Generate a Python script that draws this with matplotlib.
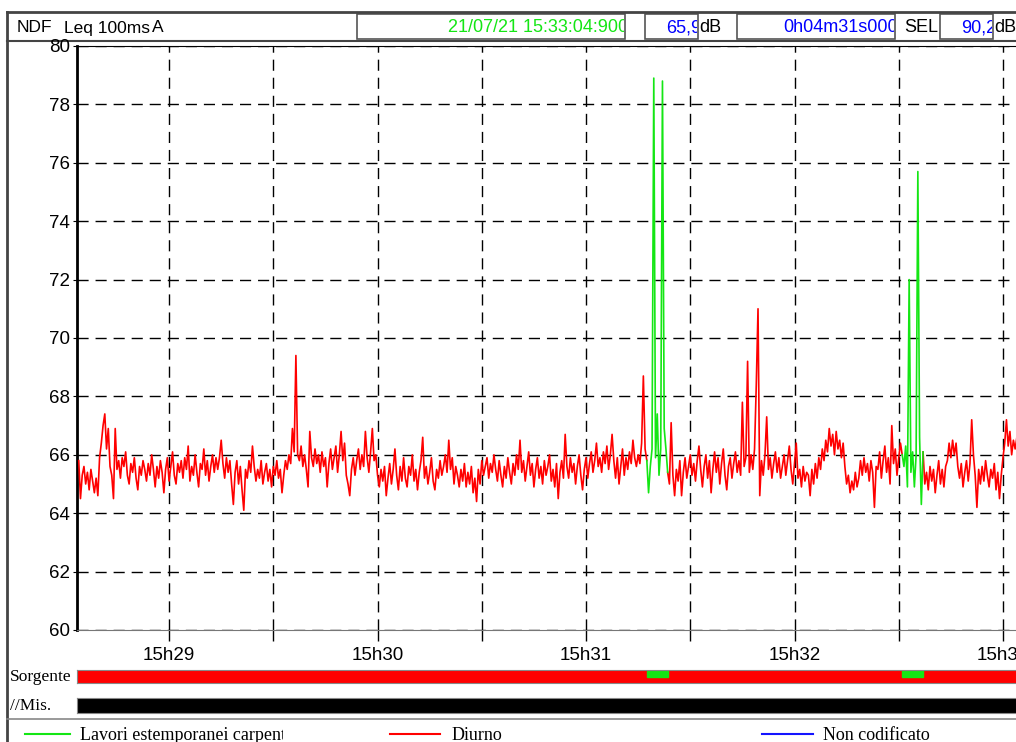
import numpy as np
import matplotlib
matplotlib.use("Agg")
import matplotlib.pyplot as plt
from matplotlib.patches import Rectangle
from matplotlib import font_manager

###############################################################################
# Data read off the reference (Leq 100ms A, sampled every 0.5 s)
# time axis: seconds after 15:28:00
t_start = 34.0
t_step = 0.5
leq = [
    # 34 - 43.5
    65.8, 64.5, 65.3, 65.6, 65.0, 65.4, 64.8, 65.5, 65.1, 64.7, 65.2, 64.6, 65.9, 66.4, 67.0, 67.4, 66.2, 66.9, 65.6, 65.3,
    # 44 - 53.5
    64.5, 66.9, 65.5, 65.8, 65.2, 65.9, 65.6, 66.1, 65.3, 65.0, 65.7, 65.4, 65.9, 65.2, 64.8, 65.6, 65.3, 65.8, 65.5, 65.1,
    # 54 - 63.5
    65.7, 65.3, 66.0, 65.5, 64.9, 65.6, 65.2, 65.8, 65.4, 64.7, 65.5, 65.9, 65.1, 65.6, 66.1, 65.3, 65.0, 65.7, 65.4, 65.8,
    # 64 - 73.5
    65.2, 65.9, 65.5, 66.3, 65.1, 65.6, 65.3, 66.0, 65.4, 64.9, 65.7, 65.5, 66.2, 65.3, 65.8, 65.1, 65.6, 66.0, 65.4, 65.9,
    # 74 - 83.5
    65.5, 65.9, 66.5, 65.7, 65.2, 65.9, 65.4, 65.8, 65.0, 64.3, 65.4, 65.8, 65.0, 65.6, 64.8, 64.1, 65.5, 65.2, 65.8, 65.4,
    # 84 - 93.5
    66.3, 65.6, 65.1, 65.5, 65.2, 65.8, 65.0, 65.4, 65.7, 65.1, 65.5, 64.9, 65.6, 65.3, 65.8, 65.2, 65.5, 64.7, 65.3, 65.8,
    # 94 - 103.5
    65.5, 66.0, 65.7, 66.9, 66.1, 69.4, 66.0, 65.8, 66.3, 65.6, 66.0, 65.5, 64.9, 66.8, 65.9, 65.6, 66.2, 65.7, 66.0, 65.4,
    # 104 - 113.5
    66.1, 65.6, 65.9, 64.9, 65.7, 66.2, 65.5, 65.9, 66.3, 65.4, 66.0, 66.8, 65.8, 66.4, 65.3, 65.0, 64.6, 65.5, 65.9, 65.3,
    # 114 - 123.5
    65.8, 66.2, 65.5, 66.0, 65.6, 66.8, 65.9, 65.4, 66.1, 66.9, 65.8, 66.0, 65.3, 64.9, 65.5, 65.1, 65.6, 64.6, 65.2, 65.7,
    # 124 - 133.5
    65.0, 65.5, 66.2, 65.3, 64.8, 65.6, 65.1, 65.9, 65.2, 64.9, 65.6, 65.3, 66.0, 65.1, 65.5, 64.8, 65.4, 65.8, 66.6, 65.2,
    # 134 - 143.5
    65.6, 65.0, 65.4, 65.9, 65.1, 64.8, 65.5, 65.2, 65.8, 65.3, 65.6, 66.0, 65.4, 66.5, 65.5, 65.9, 65.0, 65.6, 65.3, 64.9,
    # 144 - 153.5
    65.5, 65.1, 65.7, 64.9, 65.4, 65.0, 65.6, 64.7, 65.2, 64.4, 65.5, 65.0, 65.8, 65.3, 65.6, 65.9, 65.2, 65.7, 65.4, 66.0,
    # 154 - 163.5
    65.5, 65.1, 65.8, 65.3, 64.9, 65.6, 65.2, 65.9, 65.4, 65.0, 65.7, 65.3, 66.0, 65.5, 66.5, 65.4, 65.8, 65.1, 65.6, 66.1,
    # 164 - 173.5
    65.3, 65.7, 64.9, 65.5, 65.9, 65.2, 65.6, 65.0, 65.8, 65.3, 65.6, 66.0, 65.1, 65.5, 64.9, 65.7, 64.5, 65.4, 65.8, 65.2,
    # 174 - 183.5
    66.7, 65.6, 65.2, 65.9, 65.4, 65.7, 65.0, 65.6, 66.0, 65.3, 64.8, 65.5, 65.9, 65.2, 65.7, 66.1, 65.4, 65.8, 66.4, 65.6,
    # 184 - 193.5
    65.9, 65.4, 66.1, 65.7, 66.3, 65.5, 66.0, 66.7, 65.8, 65.2, 65.9, 65.0, 65.6, 66.2, 65.3, 65.9, 65.5, 66.1, 65.7, 66.5,
    # 194 - 203.5
    65.9, 65.6, 66.0, 65.7, 66.4, 68.7, 66.2, 65.8, 64.7, 65.6, 66.2, 78.9, 65.9, 67.4, 65.3, 66.2, 78.8, 66.9, 66.2, 65.4,
    # 204 - 213.5
    65.0, 67.1, 65.3, 64.6, 65.5, 65.1, 65.8, 64.6, 65.4, 65.9, 65.2, 65.6, 66.0, 65.3, 65.7, 65.1, 65.8, 66.3, 65.5, 64.9,
    # 214 - 223.5
    65.6, 66.0, 65.2, 65.8, 64.7, 65.5, 66.1, 65.4, 65.9, 65.0, 65.7, 66.2, 65.3, 64.8, 65.6, 65.9, 65.2, 65.7, 66.1, 65.4,
    # 224 - 233.5
    65.8, 65.3, 67.8, 65.6, 65.9, 69.2, 65.4, 66.0, 65.5, 66.2, 68.4, 71.0, 64.6, 65.8, 65.3, 66.0, 67.3, 65.5, 65.9, 65.2,
    # 234 - 243.5
    65.7, 66.1, 65.4, 65.9, 65.2, 65.6, 66.0, 65.3, 65.8, 66.3, 65.5, 65.0, 65.7, 66.4, 65.2, 65.5, 64.9, 65.6, 65.1, 65.4,
    # 244 - 253.5
    65.3, 64.6, 65.5, 65.0, 65.7, 65.2, 65.9, 65.5, 66.2, 65.8, 66.5, 66.1, 66.9, 66.3, 66.7, 66.0, 66.8, 66.2, 66.5, 65.9,
    # 254 - 263.5
    66.4, 65.6, 65.0, 65.3, 64.7, 65.1, 64.8, 65.4, 64.9, 65.2, 65.8, 65.3, 65.9, 65.4, 65.7, 65.1, 65.8, 65.4, 64.2, 65.6,
    # 264 - 273.5
    65.5, 66.1, 65.2, 65.8, 66.3, 65.4, 65.9, 65.0, 67.0, 65.7, 66.2, 65.3, 65.9, 66.4, 66.0, 65.6, 66.3, 64.9, 72.0, 65.4,
    # 274 - 283.5
    66.1, 64.9, 66.0, 75.7, 66.6, 64.3, 66.1, 65.0, 65.4, 64.8, 65.6, 65.1, 65.5, 64.7, 65.3, 65.8, 65.0, 65.5, 64.9, 65.6,
    # 284 - 293.5
    65.8, 66.4, 65.9, 66.5, 66.0, 66.4, 65.6, 65.2, 65.7, 64.9, 65.4, 65.8, 65.1, 65.7, 67.2, 66.0, 65.3, 64.2, 65.5, 65.0,
    # 294 - 303.5
    65.6, 65.1, 65.8, 65.3, 64.9, 65.5, 65.2, 65.7, 64.8, 65.4, 64.5, 65.3, 65.9, 66.4, 67.2, 66.3, 66.8, 66.0, 66.5, 66.2,
    # 304 - 304.5
    66.6, 66.0,
]

# periods coded "Lavori estemporanei carpenter" (seconds after 15:28:00)
green_periods = [(197.5, 203.5), (271.0, 277.0)]

tick_pos = [60, 120, 180, 240, 300]
tick_labels = ['15h29', '15h30', '15h31', '15h32', '15h33']
half_min_pos = [90, 150, 210, 270]
y_ticks = list(range(60, 81, 2))

header_left = ['NDF', 'Leq 100ms', 'A']
timestamp = '21/07/21 15:33:04:900'
leq_total = '65,9'
duration = '0h04m31s000'
sel_value = '90,2'

legend_labels = ['Lavori estemporanei carpenter', 'Diurno', 'Non codificato']
legend_colors = ['#14e614', '#ff0000', '#1414ff']

###############################################################################
# Fonts
names = {f.name for f in font_manager.fontManager.ttflist}
sans = 'Liberation Sans Narrow' if 'Liberation Sans Narrow' in names else 'Liberation Sans'
serif = 'Liberation Serif'

W, H = 1016, 742
fig = plt.figure(figsize=(W / 100, H / 100), dpi=100)

def px_axes(x0, y0, x1, y1):
    return fig.add_axes([x0 / W, (H - y1) / H, (x1 - x0) / W, (y1 - y0) / H])

# overlay in pixel coordinates for the frame, header and legend
ov = fig.add_axes([0, 0, 1, 1])
ov.set_xlim(0, W)
ov.set_ylim(H, 0)
ov.axis('off')

t = t_start + t_step * np.arange(len(leq))
leq = np.array(leq)
in_green = np.zeros(len(t), dtype=bool)
in_green_open = np.zeros(len(t), dtype=bool)
for a, b in green_periods:
    in_green |= (t >= a) & (t <= b)
    in_green_open |= (t > a) & (t < b)
red_line = np.where(in_green_open, np.nan, leq)
green_line = np.where(in_green, leq, np.nan)

###############################################################################
# Main plot
x_lo, x_hi = 33.5, 304.9
ax = px_axes(77, 46, 1020, 630)
ax.plot(t, red_line, color='#ff0000', lw=1.2, zorder=3)
ax.plot(t, green_line, color=legend_colors[0], lw=1.2, zorder=3)
ax.set_xlim(x_lo, x_hi)
ax.set_ylim(60, 80)
ax.set_yticks(y_ticks)
ax.set_xticks(tick_pos)
ax.set_xticklabels(tick_labels)
ax.set_xticks(half_min_pos, minor=True)
ax.grid(which='both', axis='x', color='black', linestyle=(0, (8, 5)), lw=1.0)
ax.grid(which='major', axis='y', color='black', linestyle=(0, (8, 5)), lw=1.0)
ax.tick_params(axis='x', which='both', direction='out', length=8, width=1, pad=4)
ax.tick_params(axis='y', length=3, pad=2)
for lab in ax.get_xticklabels() + ax.get_yticklabels():
    lab.set_fontfamily(sans)
    lab.set_fontsize(13.5)
ax.spines['left'].set_linewidth(2)
ax.spines['bottom'].set_color('#777777')
ax.spines['right'].set_visible(False)

# Sorgente bar
sb = px_axes(77, 670, 1020, 683)
sb.set_xlim(x_lo, x_hi)
sb.set_ylim(0, 1)
sb.axvspan(x_lo, x_hi, color='#ff0000')
for a, b in green_periods:
    sb.axvspan(a, b, ymin=0.45, ymax=1, color=legend_colors[0])
sb.set_xticks([])
sb.set_yticks([])
for s in sb.spines.values():
    s.set_color('#888888')

# Mis. bar
mb = px_axes(77, 698, 1020, 713)
mb.set_xlim(x_lo, x_hi)
mb.axvspan(x_lo, x_hi, color='black')
mb.set_xticks([])
mb.set_yticks([])
for s in mb.spines.values():
    s.set_color('#888888')

###############################################################################
# Frame, header, labels, legend
ov.plot([7, W], [12, 12], color='#444444', lw=2)
ov.plot([7, 7], [12, H], color='#444444', lw=2)
ov.plot([7, W], [41, 41], color='#444444', lw=1.5)
ov.plot([7, W], [719, 719], color='#888888', lw=1.2)

ov.text(17, 28, header_left[0], family=sans, fontsize=12.5, va='center')
ov.text(64, 28, header_left[1], family=sans, fontsize=12.5, va='center')
ov.text(152, 28, header_left[2], family=sans, fontsize=12.5, va='center')

boxes = [(357, 625, timestamp, '#14e614'), (645, 698, leq_total, '#0000ff'),
         (737, 895, duration, '#0000ff'), (940, 993, sel_value, '#0000ff')]
for x0, x1, txt, col in boxes:
    r = Rectangle((x0, 14), x1 - x0, 25, fill=False, edgecolor='#555555', lw=1.2)
    ov.add_patch(r)
    clip = Rectangle((x0, 14), x1 - x0 - 1, 25, transform=ov.transData)
    tx = ov.text(x1 + 3, 28, txt, family=sans, fontsize=13, color=col,
                 ha='right', va='center', clip_on=True)
    tx.set_clip_path(clip)
ov.text(699, 28, 'dB', family=sans, fontsize=13, va='center')
ov.text(904, 28, 'SEL', family=sans, fontsize=13, va='center')
ov.text(994, 28, 'dB', family=sans, fontsize=13, va='center')

ov.text(10, 677, 'Sorgente', family=serif, fontsize=12.5, va='center')
ov.text(10, 706, '//Mis.', family=serif, fontsize=12.5, va='center')

leg_x = [(25, 70, 80), (390, 440, 452), (762, 813, 823)]
for (l0, l1, tx0), lab, col in zip(leg_x, legend_labels, legend_colors):
    ov.plot([l0, l1], [734, 734], color=col, lw=1.5)
    tx = ov.text(tx0, 735, lab, family=serif, fontsize=13, va='center', clip_on=True)
    if lab == legend_labels[0]:
        tx.set_clip_path(Rectangle((0, 720), 283, 30, transform=ov.transData))

plt.savefig('out.png', dpi=100)
